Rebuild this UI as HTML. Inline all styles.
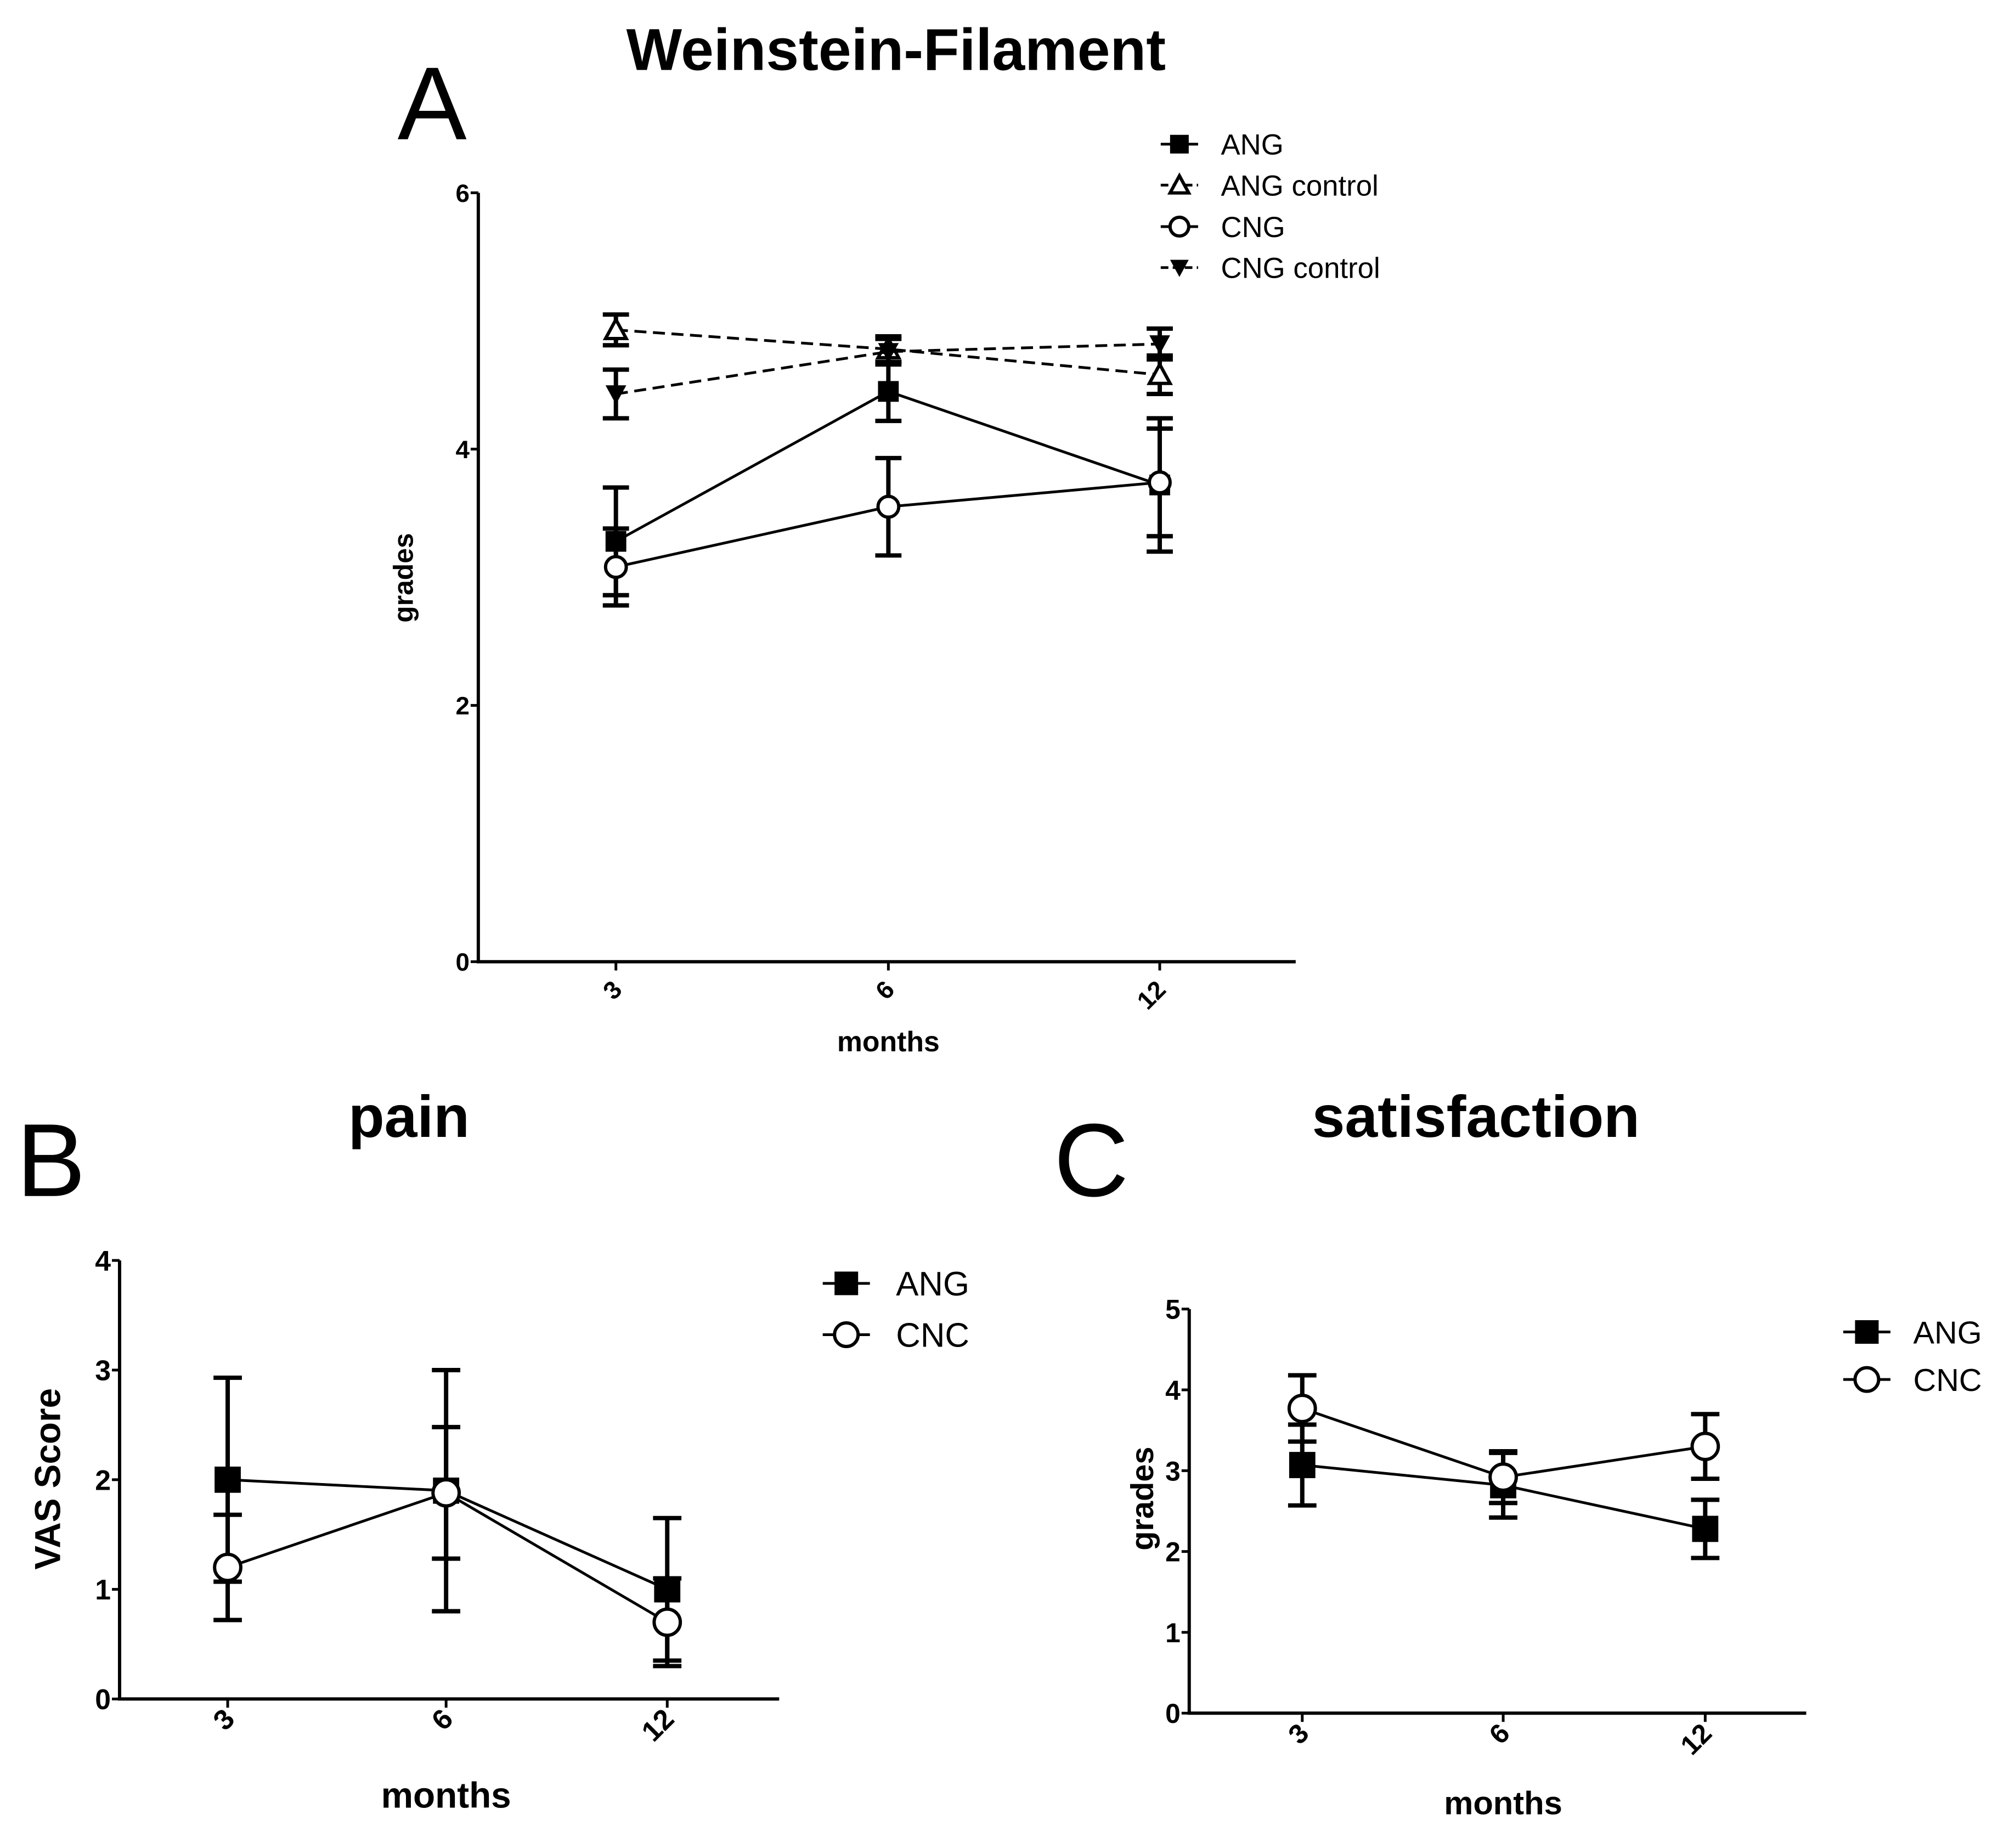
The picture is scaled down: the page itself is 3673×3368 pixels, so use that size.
<!DOCTYPE html>
<html><head><meta charset="utf-8"><style>
html,body{margin:0;padding:0;background:#fff}
svg{display:block}
text{font-family:"Liberation Sans",Arial,sans-serif;fill:#000}
</style></head><body>
<svg width="3673" height="3368" viewBox="0 0 3673 3368" xmlns="http://www.w3.org/2000/svg">
<g id="chart" transform="scale(0.9953)">
<text x="728" y="255" font-size="190">A</text>
<text x="1641" y="128" font-size="108" font-weight="bold" text-anchor="middle">Weinstein-Filament</text>
<text x="30" y="2190" font-size="190">B</text>
<text x="749" y="2082" font-size="108" font-weight="bold" text-anchor="middle">pain</text>
<text x="1930" y="2190" font-size="190">C</text>
<text x="2703" y="2082" font-size="108" font-weight="bold" text-anchor="middle">satisfaction</text>
</g>
</svg>
<script>
const NS='http://www.w3.org/2000/svg';
const svg=document.getElementById('chart');
const months=['3','6','12'];
// Panel A
const aAng=[3.28,4.45,3.72], aAngErr=[0.42,0.23,0.52];
const aAngCtl=[4.93,4.78,4.58], aAngCtlErr=[0.12,0.1,0.15];
const aCng=[3.08,3.55,3.74], aCngErr=[0.3,0.38,0.42];
const aCngCtl=[4.43,4.76,4.82], aCngCtlErr=[0.19,0.1,0.12];
const aTicks=[0,2,4,6];
// Panel B
const bAng=[2.0,1.9,1.0], bAngErr=[0.93,1.1,0.65];
const bCnc=[1.2,1.88,0.7], bCncErr=[0.48,0.6,0.4];
const bTicks=[0,1,2,3,4];
// Panel C
const cAng=[3.07,2.82,2.28], cAngErr=[0.5,0.4,0.36];
const cCnc=[3.77,2.92,3.3], cCncErr=[0.41,0.32,0.4];
const cTicks=[0,1,2,3,4,5];

function el(tag,attrs,parent){const e=document.createElementNS(NS,tag);for(const k in attrs)e.setAttribute(k,attrs[k]);(parent||svg).appendChild(e);return e;}
function marker(g,shape,x,y,s){
  if(shape==='square') return el('rect',{x:x-s/2,y:y-s/2,width:s,height:s,fill:'#000'},g);
  if(shape==='circle') return el('circle',{cx:x,cy:y,r:s/2,fill:'#fff',stroke:'#000','stroke-width':6},g);
  if(shape==='tri') return el('polygon',{points:`${x},${y-s/2} ${x-s/2},${y+s/2.4} ${x+s/2},${y+s/2.4}`,fill:'#fff',stroke:'#000','stroke-width':6},g);
  if(shape==='itri') return el('polygon',{points:`${x},${y+s/2} ${x-s/2},${y-s/2.4} ${x+s/2},${y-s/2.4}`,fill:'#000'},g);
}
function panel(p){
  const g=el('g',{});
  
  
  const ymax=p.ticks[p.ticks.length-1];
  const Y=v=>p.y0-(p.y0-p.yTop)*v/ymax;
  const X=i=>p.xt[i];
  const ax=el('path',{d:`M${p.ax},${p.yTop} V${p.y0} H${p.xEnd}`,fill:'none',stroke:'#000','stroke-width':6},g);
  
  
  p.ticks.forEach(t=>{
    el('line',{x1:p.ax-14,x2:p.ax,y1:Y(t),y2:Y(t),stroke:'#000','stroke-width':5},g);
    const tl=el('text',{x:p.ax-16,y:Y(t)+p.tf*0.36,'font-size':p.tf,'font-weight':'bold','text-anchor':'end'},g);
    tl.textContent=t;
    
    
  });
  months.forEach((m,i)=>{
    el('line',{x1:X(i),x2:X(i),y1:p.y0,y2:p.y0+16,stroke:'#000','stroke-width':5},g);
    const ty=p.y0+40+p.xtOff;
    const tl=el('text',{x:X(i)+p.tf*0.3,y:ty,'font-size':p.tf,'font-weight':'bold','text-anchor':'end',transform:`rotate(-45 ${X(i)+p.tf*0.3} ${ty})`},g);
    tl.textContent=m;
    
    
  });
  const xt=el('text',{x:X(1),y:p.xTitleY,'font-size':p.af,'font-weight':'bold','text-anchor':'middle'},g);
  xt.textContent='months';
  
  
  const yt=el('text',{x:p.yTitleX,y:p.yTitleY,'font-size':p.yf,'font-weight':'bold','text-anchor':'middle',transform:`rotate(-90 ${p.yTitleX} ${p.yTitleY})`},g);
  yt.textContent=p.yTitle;
  
  
  p.series.forEach(s=>{
    const sg=el('g',{},g);
    
    
    el('polyline',{points:s.v.map((v,i)=>X(i)+','+Y(v)).join(' '),fill:'none',stroke:'#000','stroke-width':5,'stroke-dasharray':s.dash?'22,12':'none'},sg);
    s.v.forEach((v,i)=>{
      const e=s.e[i],cw=p.cap;
      el('path',{d:`M${X(i)},${Y(v+e)} V${Y(v-e)} M${X(i)-cw},${Y(v+e)} H${X(i)+cw} M${X(i)-cw},${Y(v-e)} H${X(i)+cw}`,fill:'none',stroke:'#000','stroke-width':8},sg);
      const mk=marker(sg,s.shape,X(i),Y(v),p.ms);
      
      
    });
  });
  p.series.forEach((s,k)=>{
    const lg=el('g',{},g);
    
    
    const ly=p.legY[k];
    el('line',{x1:p.legX-p.ms*0.9,x2:p.legX+p.ms*0.9,y1:ly,y2:ly,stroke:'#000','stroke-width':5,'stroke-dasharray':s.dash?'14,8':'none'},lg);
    marker(lg,s.shape,p.legX,ly,p.ms*0.9);
    const t=el('text',{x:p.legTX,y:ly+p.lf*0.36,'font-size':p.lf},lg);
    t.textContent=s.label;
  });
}
panel({name:'panel-a-chart',ax:876,yTop:353,y0:1761,xEnd:2373,xt:[1128,1627,2124],ticks:aTicks,tf:46,af:52,yf:50,xtOff:14,
  xTitleY:1925,yTitleX:756,yTitleY:1058,yTitle:'grades',cap:24,ms:38,legX:2160,legTX:2236,legY:[264,339,415,490],lf:53,
  series:[{label:'ANG',v:aAng,e:aAngErr,shape:'square'},{label:'ANG control',v:aAngCtl,e:aAngCtlErr,shape:'tri',dash:true},
          {label:'CNG',v:aCng,e:aCngErr,shape:'circle'},{label:'CNG control',v:aCngCtl,e:aCngCtlErr,shape:'itri',dash:true}]});
panel({name:'panel-b-chart',ax:219,yTop:2308,y0:3111,xEnd:1427,xt:[417,817,1222],ticks:bTicks,tf:52,af:66,yf:66,xtOff:0,
  xTitleY:3310,yTitleX:110,yTitleY:2708,yTitle:'VAS Score',cap:26,ms:48,legX:1550,legTX:1641,legY:[2350,2444],lf:62,
  series:[{label:'ANG',v:bAng,e:bAngErr,shape:'square'},{label:'CNC',v:bCnc,e:bCncErr,shape:'circle'}]});
panel({name:'panel-c-chart',ax:2178,yTop:2397,y0:3137,xEnd:3308,xt:[2385,2753,3123],ticks:cTicks,tf:50,af:60,yf:58,xtOff:0,
  xTitleY:3322,yTitleX:2112,yTitleY:2744,yTitle:'grades',cap:26,ms:48,legX:3419,legTX:3504,legY:[2439,2526],lf:58,
  series:[{label:'ANG',v:cAng,e:cAngErr,shape:'square'},{label:'CNC',v:cCnc,e:cCncErr,shape:'circle'}]});
</script>
</body></html>
